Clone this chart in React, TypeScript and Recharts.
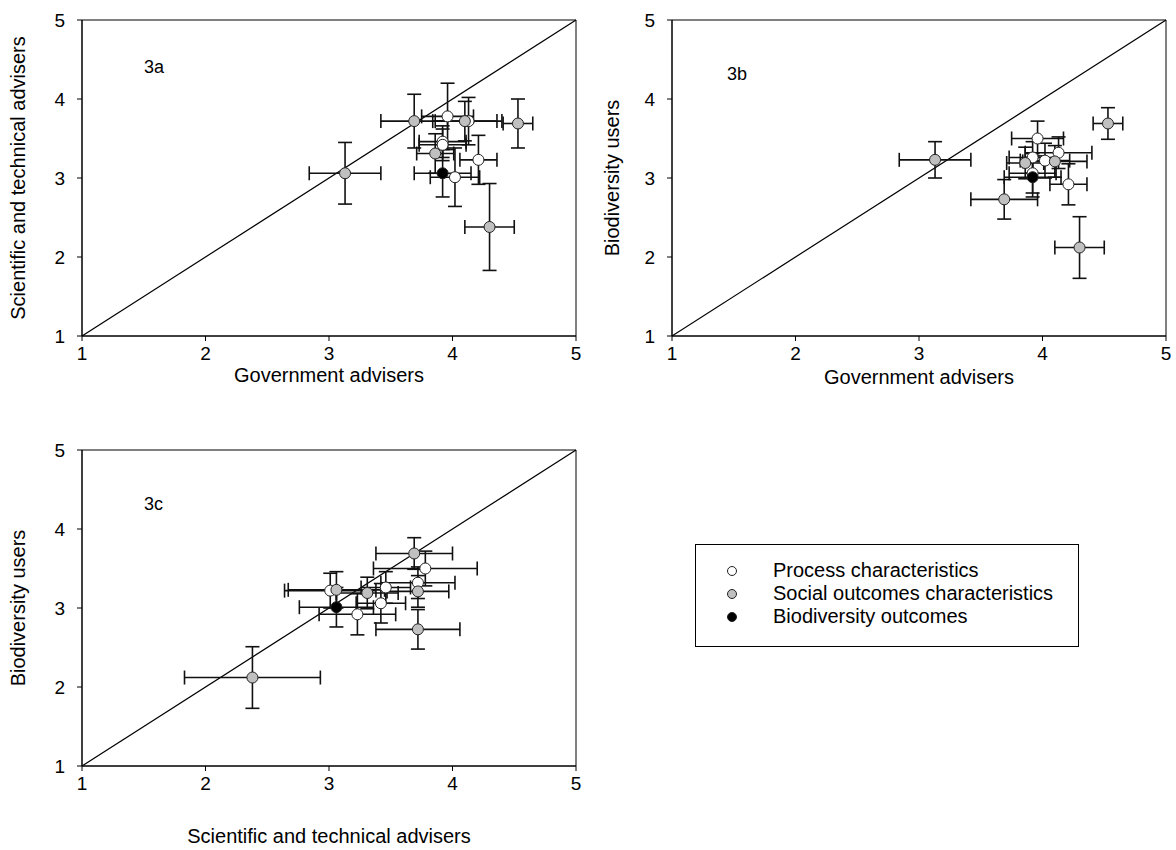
import React from "react"
import { ScatterChart, Scatter, XAxis, YAxis, ErrorBar, ReferenceLine, ReferenceArea } from "recharts"

// one entry per characteristic: mean score and error for each respondent group
const kind = ["grey", "grey", "grey", "grey", "grey", "grey", "white", "white", "white", "white", "white", "white", "black"]
const govMean = [3.13, 3.69, 4.1, 4.53, 3.86, 4.3, 3.96, 4.13, 3.92, 3.92, 4.21, 4.02, 3.92]
const govErr = [0.29, 0.27, 0.26, 0.12, 0.15, 0.2, 0.21, 0.27, 0.19, 0.19, 0.15, 0.2, 0.23]
const sciMean = [3.06, 3.72, 3.72, 3.69, 3.31, 2.38, 3.78, 3.72, 3.46, 3.42, 3.23, 3.01, 3.06]
const sciErr = [0.39, 0.34, 0.25, 0.31, 0.25, 0.55, 0.42, 0.3, 0.2, 0.2, 0.31, 0.37, 0.3]
const bioMean = [3.23, 2.73, 3.21, 3.69, 3.19, 2.12, 3.5, 3.32, 3.26, 3.06, 2.92, 3.22, 3.01]
const bioErr = [0.23, 0.25, 0.2, 0.2, 0.2, 0.39, 0.22, 0.2, 0.2, 0.25, 0.26, 0.22, 0.25]

const ticks = [1, 2, 3, 4, 5]
const legendLabels = ["Process characteristics", "Social outcomes characteristics", "Biodiversity outcomes"]
const kinds = ["white", "grey", "black"]
const fills: Record<string, string> = { white: "#ffffff", grey: "#c0c0c0", black: "#000000" }

const font = "'Liberation Sans', Arial, sans-serif"

function points(xs: number[], xe: number[], ys: number[], ye: number[], k: string) {
  return kind
    .map((t, i) => ({ t, x: xs[i], y: ys[i], ex: xe[i], ey: ye[i] }))
    .filter((p) => p.t === k)
}

const dot = (fill: string) => (p: any) => (
  <circle cx={p.cx} cy={p.cy} r={5.5} fill={fill} stroke="#222" strokeWidth={1} />
)

type PanelProps = {
  xs: number[]
  xe: number[]
  ys: number[]
  ye: number[]
  xTitle: string
  yTitle: string
  height: number
  titleOffset: number
  yTitleX: number
}

function Panel({ xs, xe, ys, ye, xTitle, yTitle, height, titleOffset, yTitleX }: PanelProps) {
  return (
    <ScatterChart width={590} height={height} margin={{ top: 20, right: 14, bottom: 0, left: 0 }}>
      <XAxis
        type="number"
        dataKey="x"
        domain={[1, 5]}
        ticks={ticks}
        interval={0}
        allowDataOverflow
        height={height - 20 - 316}
        tickSize={5}
        tickMargin={6}
        stroke="#000"
        fontSize={19}
        tick={{ fontSize: 19, fill: "#000" }}
        label={{ value: xTitle, position: "insideBottom", offset: titleOffset, fontSize: 20, fill: "#000" }}
      />
      <YAxis
        type="number"
        dataKey="y"
        domain={[1, 5]}
        ticks={ticks}
        interval={0}
        allowDataOverflow
        width={82}
        tickSize={5}
        tickMargin={12}
        stroke="#000"
        fontSize={19}
        tick={{ fontSize: 19, fill: "#000" }}
        label={{
          value: yTitle,
          angle: -90,
          position: "insideLeft",
          offset: yTitleX,
          fontSize: 20,
          fill: "#000",
          style: { textAnchor: "middle" },
        }}
      />
      <ReferenceArea x1={1} x2={5} y1={1} y2={5} fill="none" stroke="#000" strokeWidth={1} ifOverflow="visible" />
      <ReferenceLine segment={[{ x: 1, y: 1 }, { x: 5, y: 5 }]} stroke="#000" strokeWidth={1.2} ifOverflow="visible" />
      {kinds.map((k) => (
        <Scatter key={k} data={points(xs, xe, ys, ye, k)} shape={dot(fills[k])} isAnimationActive={false}>
          <ErrorBar dataKey="ex" direction="x" width={7} stroke="#111" strokeWidth={1.6} />
          <ErrorBar dataKey="ey" direction="y" width={7} stroke="#111" strokeWidth={1.6} />
        </Scatter>
      ))}
    </ScatterChart>
  )
}

const tagStyle: React.CSSProperties = { position: "absolute", fontSize: 18, color: "#000", lineHeight: "18px" }

export default function App() {
  return (
    <div style={{ position: "absolute", left: 0, top: 0, width: 1176, height: 850, background: "#fff", fontFamily: font }}>
      <div style={{ position: "absolute", left: 0, top: 0 }}>
        <Panel xs={govMean} xe={govErr} ys={sciMean} ye={sciErr} xTitle="Government advisers"
          yTitle="Scientific and technical advisers" height={400} titleOffset={18} yTitleX={18} />
      </div>
      <div style={{ position: "absolute", left: 590, top: 0 }}>
        <Panel xs={govMean} xe={govErr} ys={bioMean} ye={bioErr} xTitle="Government advisers"
          yTitle="Biodiversity users" height={400} titleOffset={16} yTitleX={22} />
      </div>
      <div style={{ position: "absolute", left: 0, top: 430 }}>
        <Panel xs={sciMean} xe={sciErr} ys={bioMean} ye={bioErr} xTitle="Scientific and technical advisers"
          yTitle="Biodiversity users" height={420} titleOffset={7} yTitleX={18} />
      </div>
      <div style={{ ...tagStyle, left: 144, top: 58 }}>3a</div>
      <div style={{ ...tagStyle, left: 727, top: 65 }}>3b</div>
      <div style={{ ...tagStyle, left: 144, top: 495 }}>3c</div>
      <div
        style={{
          position: "absolute",
          left: 695,
          top: 544,
          width: 384,
          height: 103,
          border: "1px solid #000",
          boxSizing: "border-box",
        }}
      >
        {legendLabels.map((label, i) => (
          <div key={label} style={{ position: "absolute", left: 30, top: 14 + i * 23, height: 23, display: "flex", alignItems: "center" }}>
            <svg width={12} height={12}>
              <circle cx={6} cy={6} r={4.5} fill={fills[kinds[i]]} stroke="#222" strokeWidth={1} />
            </svg>
            <span style={{ marginLeft: 35, fontSize: 20, color: "#000" }}>{label}</span>
          </div>
        ))}
      </div>
    </div>
  )
}
